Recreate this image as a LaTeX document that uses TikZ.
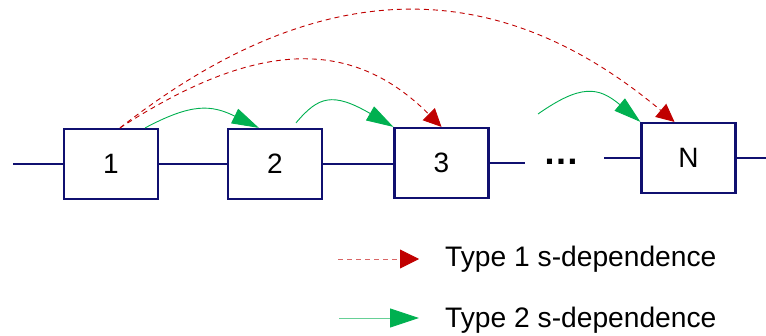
\documentclass[tikz,border=0pt]{standalone}
\usepackage{fontspec}
\setmainfont{Liberation Sans}
\usetikzlibrary{arrows.meta,calc}
\definecolor{navy}{RGB}{16,16,112}
\definecolor{depred}{RGB}{192,0,0}
\definecolor{depgreen}{RGB}{0,176,80}
\tikzset{
  x=1pt, y=1pt,
  stage/.style={draw=navy, line width=2.2pt, fill=white, minimum width=94pt,
    minimum height=70pt, inner sep=0pt, font=\fontsize{28}{32}\selectfont},
  wire/.style={draw=navy, line width=2.2pt},
  typeone/.style={draw=depred, line width=0.9pt, dash pattern=on 5pt off 4pt,
    -{Triangle[length=18pt,width=17pt]}},
  typetwo/.style={draw=depgreen, line width=0.9pt,
    -{Triangle[length=27pt,width=16pt]}},
  legtext/.style={anchor=base west, inner sep=0pt, font=\fontsize{28.2}{32}\selectfont}
}
\begin{document}
\begin{tikzpicture}
\useasboundingbox (0,0) rectangle (766,335);

% pipeline stages
\node[stage] (b1) at (111,171) {1};
\node[stage] (b2) at (275,171) {2};
\node[stage] (b3) at (441.5,172) {3};
\node[stage] (bN) at (688.5,177) {N};
\node[inner sep=0pt, anchor=base, font=\fontsize{36}{40}\selectfont\bfseries] (dots) at (561,170) {…};

% line through the stages
\coordinate (in) at (13,171);
\coordinate (gapL) at (525,172);
\coordinate (gapR) at (604,177);
\coordinate (out) at (766,177);
\draw[wire] (in) -- (b1.west);
\draw[wire] (b1.east) -- (b2.west);
\draw[wire] (b2.east) -- (b2.east -| b3.west);
\draw[wire] (b3.east) -- (gapL);
\draw[wire] (gapR) -- (bN.west);
\draw[wire] (bN.east) -- (out);

% end points of the dependence arcs
\coordinate (r0) at ($(b1.north)+(9,0)$);
\coordinate (g1s) at ($(b1.north east)+(-14,0)$);
\coordinate (g1e) at ($(b2.north west)+(32,0)$);
\coordinate (g2s) at ($(b2.north)+(21,5)$);
\coordinate (g3s) at (538,221);
\coordinate (rNe) at ($(bN.north)+(-14,0)$);

% type 1 dependences
\draw[typeone] (r0) .. controls +(33:167) and +(135:124) .. (b3.north);
\draw[typeone] (r0) .. controls +(38:256) and +(140:229) .. (rNe);

% type 2 dependences
\draw[typetwo] (g1s) .. controls +(28:53) and +(154:53) .. (g1e);
\draw[typetwo] (g2s) .. controls +(50:35) and +(150:70) .. (b3.north west);
\draw[typetwo] (g3s) .. controls +(35:52) and +(140:55) .. (bN.north west);

% legend
\coordinate (l1a) at (338,76);
\coordinate (l1b) at (419,76);
\coordinate (l2a) at (339,17);
\coordinate (l2b) at (419,17);
\draw[typeone, draw=depred!60, -{Triangle[length=19pt,width=19pt,fill=depred,color=depred]}] (l1a) -- (l1b);
\draw[typetwo, draw=depgreen!60, -{Triangle[length=29pt,width=19pt,fill=depgreen,color=depgreen]}] (l2a) -- (l2b);
\node[legtext] (t1) at (445,68) {Type 1 s-dependence};
\node[legtext] (t2) at (445,8) {Type 2 s-dependence};
\end{tikzpicture}
\end{document}
